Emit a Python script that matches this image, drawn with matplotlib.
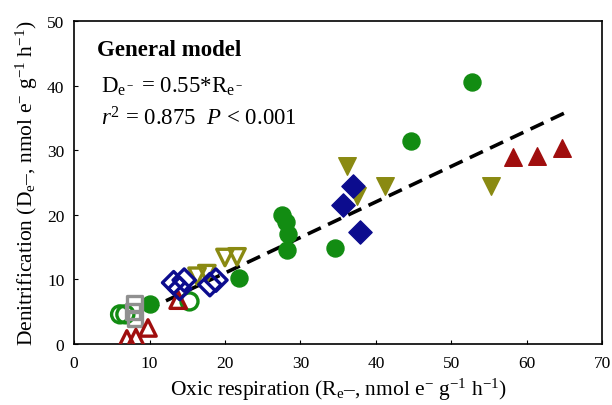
import numpy as np
import matplotlib.pyplot as plt

plt.rcParams['font.family'] = ['Liberation Serif', 'DejaVu Serif']
plt.rcParams['mathtext.fontset'] = 'custom'
plt.rcParams['mathtext.rm'] = 'Liberation Serif'
plt.rcParams['mathtext.it'] = 'Liberation Serif:italic'
plt.rcParams['mathtext.bf'] = 'Liberation Serif:bold'

# Data (Re-, De-)
green_fill_x = [10.1, 21.8, 27.6, 28.1, 28.4, 28.2, 34.6, 44.6, 52.8]
green_fill_y = [6.2, 10.3, 19.9, 18.9, 17.0, 14.6, 14.9, 31.4, 40.6]
green_open_x = [6.1, 6.8, 15.3]
green_open_y = [4.6, 4.6, 6.6]
gray_open_x = [8.0, 7.8, 8.1]
gray_open_y = [6.3, 5.0, 3.9]
red_open_x = [7.0, 8.2, 9.8, 13.8]
red_open_y = [0.8, 1.0, 2.5, 6.8]
red_fill_x = [58.2, 61.3, 64.7]
red_fill_y = [28.9, 29.1, 30.3]
olive_fill_x = [36.2, 37.5, 41.2, 55.3]
olive_fill_y = [27.6, 22.9, 24.5, 24.4]
olive_open_x = [16.3, 17.6, 20.0, 21.6]
olive_open_y = [10.5, 10.9, 13.4, 13.5]
blue_open_x = [13.2, 14.0, 14.6, 18.0, 18.8]
blue_open_y = [9.5, 8.6, 9.9, 9.2, 9.9]
blue_fill_x = [35.7, 37.0, 37.9]
blue_fill_y = [21.5, 24.5, 17.3]

slope = 0.55
fit_x = np.array([9.5, 65.0])

green = '#128c12'
blue = '#0c0c8e'
olive = '#8a8a12'
red = '#a00e0e'
gray = '#909090'

fig = plt.figure(figsize=(6.12, 4.06), dpi=100)
ax = fig.add_axes([0.121, 0.150, 0.863, 0.796])

ax.plot(fit_x, slope * fit_x, ls=(0, (4, 2.2)), color='black', lw=2.6, zorder=1)

ax.scatter(green_fill_x, green_fill_y, s=150, marker='o', color=green, zorder=3)
ax.scatter(green_open_x, green_open_y, s=150, marker='o', facecolors='none', edgecolors=green, linewidths=2.4, zorder=3)
ax.scatter(gray_open_x, gray_open_y, s=110, marker='s', facecolors='none', edgecolors=gray, linewidths=2.4, zorder=3)
ax.scatter(red_open_x, red_open_y, s=140, marker='^', facecolors='none', edgecolors=red, linewidths=2.4, zorder=3)
ax.scatter(red_fill_x, red_fill_y, s=160, marker='^', color=red, zorder=3)
ax.scatter(olive_fill_x, olive_fill_y, s=160, marker='v', color=olive, zorder=3)
ax.scatter(olive_open_x, olive_open_y, s=140, marker='v', facecolors='none', edgecolors=olive, linewidths=2.4, zorder=3)
ax.scatter(blue_open_x, blue_open_y, s=130, marker='D', facecolors='none', edgecolors=blue, linewidths=2.4, zorder=3)
ax.scatter(blue_fill_x, blue_fill_y, s=140, marker='D', color=blue, zorder=3)

ax.set_xlim(0, 70)
ax.set_ylim(0, 50)
ax.set_xticks(range(0, 71, 10))
ax.set_yticks(range(0, 51, 10))
ax.tick_params(direction='in', length=3, labelsize=12.5)
ax.tick_params(axis='x', pad=8)
ax.tick_params(axis='y', pad=7)
for s in ax.spines.values():
    s.set_linewidth(1.2)

ax.set_xlabel('Oxic respiration (R$_{\\mathrm{e}}$–, nmol e$^{-}$ g$^{-1}$ h$^{-1}$)', fontsize=15.5, labelpad=3)
ax.set_ylabel('Denitrification (D$_{\\mathrm{e}}$–, nmol e$^{-}$ g$^{-1}$ h$^{-1}$)', fontsize=15.5, labelpad=5)

ax.text(0.044, 0.913, 'General model', transform=ax.transAxes, fontsize=16.5, fontweight='bold', va='center')
ax.text(0.051, 0.80, 'D$_{\\mathrm{e}^-}$ = 0.55*R$_{\\mathrm{e}^-}$', transform=ax.transAxes, fontsize=16.5, va='center')
ax.text(0.051, 0.70, '$r^2$ = 0.875  $P$ < 0.001', transform=ax.transAxes, fontsize=16.5, va='center')

fig.savefig('out.png', dpi=100)
